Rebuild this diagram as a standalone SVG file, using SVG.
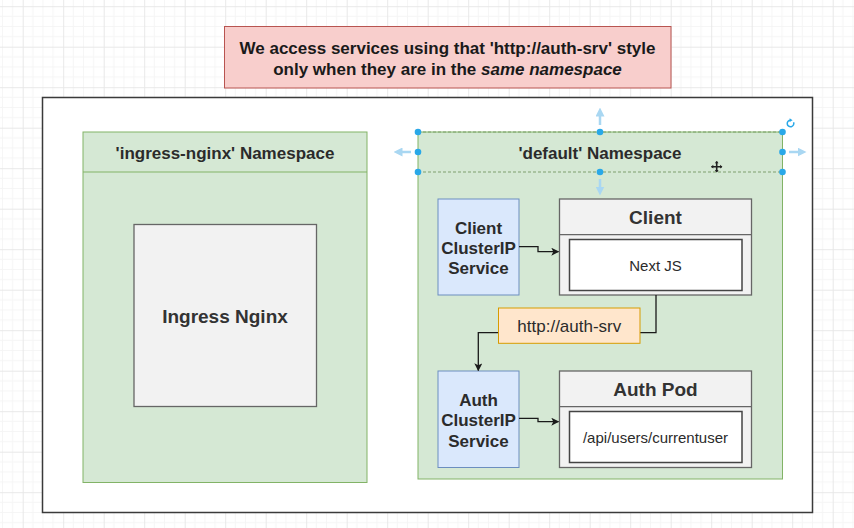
<svg xmlns="http://www.w3.org/2000/svg" width="854" height="528" viewBox="0 0 854 528">
  <defs>
    <pattern id="grid" patternUnits="userSpaceOnUse" x="22.7" y="6.2" width="40.5" height="40.5">
      <path d="M10.125 0V40.5M20.25 0V40.5M30.375 0V40.5M0 10.125H40.5M0 20.25H40.5M0 30.375H40.5" stroke="#f5f5f5" stroke-width="1" fill="none"/>
      <path d="M0.5 0V40.5M0 0.5H40.5" stroke="#e8e8e8" stroke-width="1" fill="none"/>
    </pattern>
    <marker id="arrow" viewBox="0 0 10 10" refX="9" refY="5" markerWidth="8" markerHeight="8" markerUnits="userSpaceOnUse" orient="auto">
      <path d="M0 0L10 5L0 10L2.5 5Z" fill="#1a1a1a"/>
    </marker>
    <marker id="harrow" viewBox="0 0 10 10" refX="5" refY="5" markerWidth="9" markerHeight="9" markerUnits="userSpaceOnUse" orient="auto">
      <path d="M0 0L10 5L0 10Z" fill="#a9d7f2"/>
    </marker>
    <style>
      text { font-family: "Liberation Sans", Arial, sans-serif; fill: #2b2b2b; }
      .b { font-weight: bold; }
      .ns { fill: #d5e8d4; stroke: #82b366; stroke-width: 1; }
      .pod { fill: #f2f2f2; stroke: #666666; stroke-width: 1.3; }
      .inner { fill: #ffffff; stroke: #444444; stroke-width: 1.5; }
      .svc { fill: #dae8fc; stroke: #6c8ebf; stroke-width: 1; }
      .lbl { fill: #ffe6cc; stroke: #d79b00; stroke-width: 1; }
      .conn { fill: none; stroke: #1a1a1a; stroke-width: 1.3; }
      .h { fill: #29a8e8; }
      .ha { fill: none; stroke: #a9d7f2; stroke-width: 2.5; }
      .sel { stroke: #7f9f6f; stroke-width: 1; stroke-dasharray: 3 2; }
    </style>
  </defs>

  <rect x="0" y="0" width="854" height="528" fill="#ffffff"/>
  <rect x="0" y="0" width="854" height="528" fill="url(#grid)"/>

  <g id="note">
    <rect x="224.5" y="26.5" width="446.5" height="61.5" fill="#f8cecc" stroke="#b85450" stroke-width="1"/>
    <text x="447.5" y="53.5" text-anchor="middle" font-size="17" class="b" style="fill:#1a1a1a">We access services using that 'http://auth-srv' style</text>
    <text x="447.5" y="74.5" text-anchor="middle" font-size="17" class="b" style="fill:#1a1a1a">only when they are in the <tspan font-style="italic">same namespace</tspan></text>
  </g>

  <g id="cluster">
    <rect x="42.5" y="97.5" width="770" height="415" fill="#ffffff" stroke="#3a3a3a" stroke-width="1.5"/>
  </g>

  <g id="ns-ingress-nginx">
    <rect class="ns" x="83" y="132" width="284" height="350.5"/>
    <line x1="83" y1="172" x2="367" y2="172" stroke="#82b366" stroke-width="1"/>
    <text x="225" y="159" text-anchor="middle" font-size="17" class="b">'ingress-nginx' Namespace</text>
  </g>

  <g id="ns-default">
    <rect class="ns" x="418" y="132" width="364.5" height="347"/>
    <line class="sel" x1="418" y1="132" x2="782.5" y2="132"/>
    <line class="sel" x1="418" y1="172" x2="782.5" y2="172"/>
    <text x="600" y="158.5" text-anchor="middle" font-size="17" class="b">'default' Namespace</text>
  </g>

  <g id="ingress-nginx">
    <rect class="pod" x="134" y="224.5" width="182.5" height="182"/>
    <text x="225" y="322.5" text-anchor="middle" font-size="19" class="b" style="fill:#333">Ingress Nginx</text>
  </g>

  <g id="client-clusterip-service">
    <rect class="svc" x="438" y="199" width="81" height="96"/>
    <text x="478.5" y="234" text-anchor="middle" font-size="17" class="b">Client</text>
    <text x="478.5" y="254" text-anchor="middle" font-size="17" class="b">ClusterIP</text>
    <text x="478.5" y="274" text-anchor="middle" font-size="17" class="b">Service</text>
  </g>

  <g id="client-pod">
    <rect class="pod" x="559.5" y="199" width="192" height="96"/>
    <line x1="559.5" y1="234.7" x2="751.5" y2="234.7" stroke="#666666" stroke-width="1.3"/>
    <text x="655.5" y="224" text-anchor="middle" font-size="19" class="b" style="fill:#333">Client</text>
  </g>

  <g id="next-js">
    <rect class="inner" x="569.5" y="239.5" width="172.5" height="51"/>
    <text x="655.5" y="270.5" text-anchor="middle" font-size="15">Next JS</text>
  </g>

  <g id="auth-clusterip-service">
    <rect class="svc" x="438" y="371" width="81" height="96.5"/>
    <text x="478.5" y="405.5" text-anchor="middle" font-size="17" class="b">Auth</text>
    <text x="478.5" y="426" text-anchor="middle" font-size="17" class="b">ClusterIP</text>
    <text x="478.5" y="446.5" text-anchor="middle" font-size="17" class="b">Service</text>
  </g>

  <g id="auth-pod">
    <rect class="pod" x="559.5" y="371" width="192" height="96.5"/>
    <line x1="559.5" y1="406.7" x2="751.5" y2="406.7" stroke="#666666" stroke-width="1.3"/>
    <text x="655.5" y="396" text-anchor="middle" font-size="19" class="b" style="fill:#333">Auth Pod</text>
  </g>

  <g id="current-user">
    <rect class="inner" x="569.5" y="411.5" width="172.5" height="51"/>
    <text x="655.5" y="442.5" text-anchor="middle" font-size="15">/api/users/currentuser</text>
  </g>

  <g id="connectors">
    <path class="conn" d="M519 246.7H538V251.7H558.5" marker-end="url(#arrow)"/>
    <path class="conn" d="M519 418.3H538V421.7H558.5" marker-end="url(#arrow)"/>
    <path class="conn" d="M656 295V332.7H478.3V370.5" marker-end="url(#arrow)"/>
  </g>

  <g id="edge-label-auth-srv">
    <rect class="lbl" x="498.5" y="308" width="141.5" height="35.3"/>
    <text x="569.3" y="331.5" text-anchor="middle" font-size="17">http://auth-srv</text>
  </g>

  <g id="selection-handles">
    <path class="ha" d="M600 125V112" marker-end="url(#harrow)"/>
    <path class="ha" d="M411 152H398" marker-end="url(#harrow)"/>
    <path class="ha" d="M789 152H802" marker-end="url(#harrow)"/>
    <path class="ha" d="M600 179V191" marker-end="url(#harrow)"/>
    <circle class="h" cx="418" cy="132" r="3.3"/>
    <circle class="h" cx="600" cy="132" r="3.3"/>
    <circle class="h" cx="782.5" cy="132" r="3.3"/>
    <circle class="h" cx="418" cy="152" r="3.3"/>
    <circle class="h" cx="782.5" cy="152" r="3.3"/>
    <circle class="h" cx="418" cy="172" r="3.3"/>
    <circle class="h" cx="600" cy="172" r="3.3"/>
    <circle class="h" cx="782.5" cy="172" r="3.3"/>
    <path d="M793.6 122.3A3.3 3.3 0 1 1 790.6 120.2" fill="none" stroke="#29a8e8" stroke-width="1.5"/>
    <path d="M789.6 118.3L792.6 120.2L789.6 122.1Z" fill="#29a8e8"/>
    <path d="M716.7 161.5V172M711.5 166.7H722" stroke="#222" stroke-width="1.6"/>
    <path d="M714.8 163.3L716.7 161L718.6 163.3ZM714.8 170.1L716.7 172.4L718.6 170.1ZM713.3 164.8L711 166.7L713.3 168.6ZM720.1 164.8L722.4 166.7L720.1 168.6Z" fill="#222"/>
  </g>
</svg>
